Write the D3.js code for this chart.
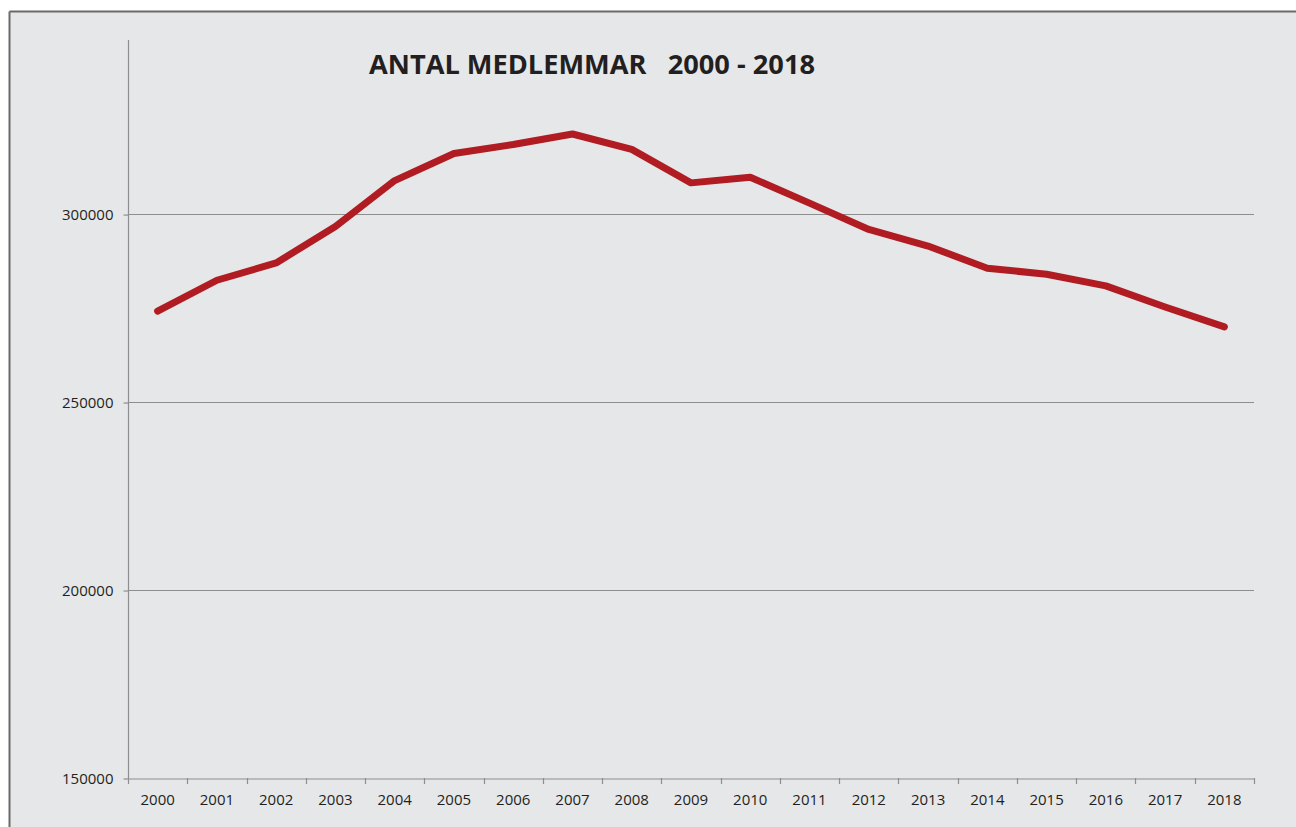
<!DOCTYPE html>
<html>
<head>
<meta charset="utf-8">
<script src="https://cdn.jsdelivr.net/npm/d3@7"></script>
<style>
  html, body { margin: 0; padding: 0; background: #ffffff; }
  svg { display: block; }
</style>
</head>
<body>
<svg id="chart" width="1296" height="827"></svg>
<script>
const title = "ANTAL MEDLEMMAR   2000 - 2018";
const years = ["2000","2001","2002","2003","2004","2005","2006","2007","2008","2009","2010","2011","2012","2013","2014","2015","2016","2017","2018"];
const members = [274200, 282400, 287000, 296700, 308900, 316100, 318500, 321300, 317200, 308300, 309800, 302900, 295900, 291500, 285600, 284000, 280900, 275300, 270000];
const yTicks = [150000, 200000, 250000, 300000];

(function () {
const svg = d3.select("#chart");
const W = 1296, H = 827;
const mLeft = 128, mRight = 1254, mBottom = 778, mTop = 40;

// frame background
svg.append("rect").attr("x", 10).attr("y", 12).attr("width", W - 10).attr("height", H - 12).attr("fill", "#e6e7e9");
svg.append("line").attr("x1", 9.5).attr("x2", W).attr("y1", 11.5).attr("y2", 11.5).attr("stroke", "#6a6a6a").attr("stroke-width", 2);
svg.append("line").attr("x1", 9.5).attr("x2", 9.5).attr("y1", 11.5).attr("y2", H).attr("stroke", "#6a6a6a").attr("stroke-width", 2);

const x = d3.scaleBand().domain(years).range([mLeft, mRight]).padding(0);
const y = d3.scaleLinear().domain([150000, 346300]).range([mBottom, mTop]);

// gridlines
svg.append("g").selectAll("line").data(yTicks.filter(d => d > 150000)).join("line")
  .attr("x1", mLeft).attr("x2", mRight)
  .attr("y1", d => Math.round(y(d)) + 0.5).attr("y2", d => Math.round(y(d)) + 0.5)
  .attr("stroke", "#8e8e8e").attr("stroke-width", 1.2);

// y axis
const yAxis = d3.axisLeft(y).tickValues(yTicks).tickSize(5).tickPadding(10).tickFormat(d3.format("d"));
const gy = svg.append("g").attr("transform", `translate(${mLeft + 0.5},0.5)`).call(yAxis);
gy.select(".domain").remove();
gy.selectAll(".tick line").attr("stroke", "#8e8e8e").attr("stroke-width", 1.2);
gy.selectAll(".tick text").attr("fill", "#231f20").style("font-family", "'Open Sans', sans-serif").style("font-size", "15px");
svg.append("line").attr("x1", mLeft + 0.5).attr("x2", mLeft + 0.5).attr("y1", y(346300)).attr("y2", mBottom)
  .attr("stroke", "#8e8e8e").attr("stroke-width", 1.2);

// x axis
const xAxis = d3.axisBottom(x).tickSize(0).tickPadding(16);
const gx = svg.append("g").attr("transform", `translate(0,${mBottom + 0.5})`).call(xAxis);
gx.select(".domain").attr("stroke", "#8e8e8e").attr("stroke-width", 1.2);
gx.selectAll(".tick text").attr("fill", "#231f20").style("font-family", "'Open Sans', sans-serif").style("font-size", "15px");
// category boundary tick marks
const bounds = years.map(d => x(d)).concat([x(years[years.length - 1]) + x.bandwidth()]);
svg.append("g").selectAll("line").data(bounds).join("line")
  .attr("x1", d => Math.round(d) + 0.5).attr("x2", d => Math.round(d) + 0.5)
  .attr("y1", mBottom).attr("y2", mBottom + 6)
  .attr("stroke", "#8e8e8e").attr("stroke-width", 1.2);

// line
const line = d3.line().x((d, i) => x(years[i]) + x.bandwidth() / 2).y(d => y(d));
svg.append("path").datum(members).attr("d", line)
  .attr("fill", "none").attr("stroke", "#b01c22").attr("stroke-width", 7)
  .attr("stroke-linejoin", "round").attr("stroke-linecap", "round");

// title
svg.append("text").attr("x", 369).attr("y", 74)
  .attr("textLength", 446).attr("lengthAdjust", "spacingAndGlyphs")
  .style("white-space", "pre")
  .attr("fill", "#231f20").style("font-family", "'Open Sans', sans-serif").style("font-weight", "bold").style("font-size", "27.5px")
  .text(title);
})();
</script>
</body>
</html>
